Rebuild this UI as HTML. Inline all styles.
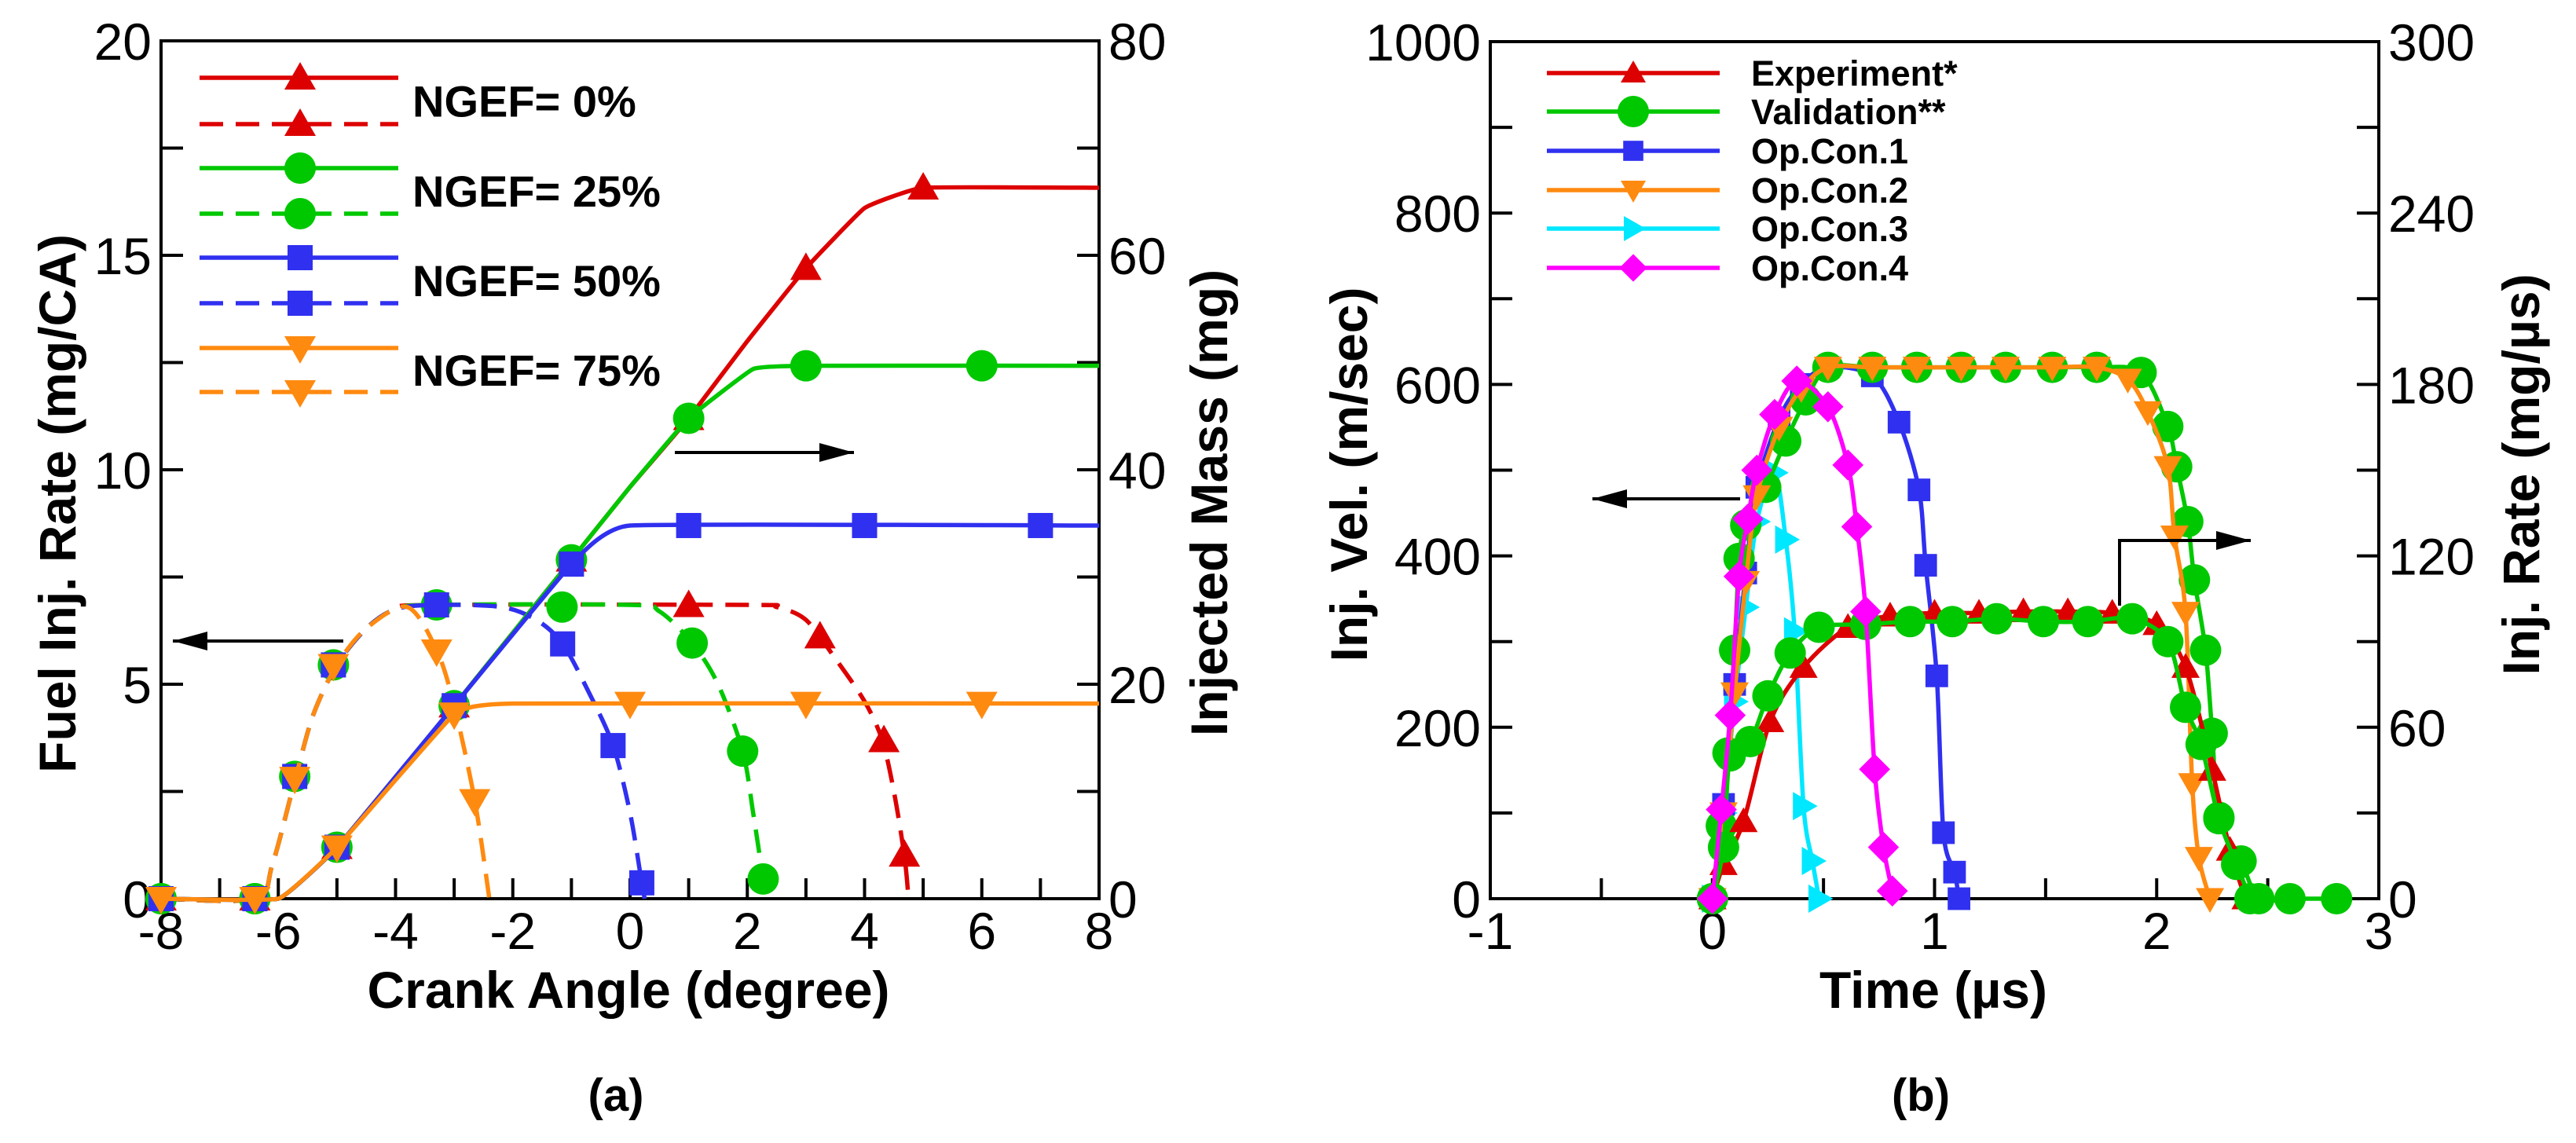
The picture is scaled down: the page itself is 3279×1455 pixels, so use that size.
<!DOCTYPE html>
<html><head><meta charset="utf-8">
<style>
html,body{margin:0;padding:0;background:#fff;}
svg{display:block;}
text{font-family:"Liberation Sans",Arial,sans-serif;}
</style></head>
<body>
<svg id="fig" width="3279" height="1455" viewBox="0 0 3279 1455" xmlns="http://www.w3.org/2000/svg">
<rect width="3279" height="1455" fill="#fff"/>
<g id="chartA"></g>
<g id="chartB"></g>
</svg>
<script>
// ===== Chart (a) data =====
const aXTicks = [-8,-6,-4,-2,0,2,4,6,8];
const aYLeftTicks = [0,5,10,15,20];
const aYRightTicks = [0,20,40,60,80];
// Injected mass (mg, right axis)
const massRedX = [-8,-6,-5,-3,-1,0,1,2,3,4,5,8];
const massRedY = [0,0,4.8,18,31.6,38.4,44.8,52,58.8,64.4,66.3,66.3];
const massRedMX = [-8,-6.4,-5,-3,-1,1,3,5];
const massRedMY = [0,0,4.8,18,31.6,44.8,58.8,66.3];
const massGreenX = [-8,-6,-5,-3,-1,0,1,2.1,3,8];
const massGreenY = [0,0,4.8,18,31.6,38.4,44.8,49.4,49.7,49.7];
const massGreenMX = [-8,-6.4,-5,-3,-1,1,3,6];
const massGreenMY = [0,0,4.8,18,31.6,44.8,49.7,49.7];
const massBlueX = [-8,-6,-5,-3,-1,0,8];
const massBlueY = [0,0,4.8,18,31.2,34.8,34.8];
const massBlueMX = [-8,-6.4,-5,-3,-1,1,4,7];
const massBlueMY = [0,0,4.8,18,31.2,34.8,34.8,34.8];
const massOrangeX = [-8,-6,-5,-3,-2,8];
const massOrangeY = [0,0,4.8,17.2,18.2,18.2];
const massOrangeMX = [-8,-6.4,-5,-3,0,3,6];
const massOrangeMY = [0,0,4.8,17.2,18.2,18.2,18.2];
// Fuel injection rate (mg/CA, left axis)
const rateRedX = [-8,-6.4,-6.1,-5.7,-5.4,-5,-4.5,-4,-3.3,2,2.5,3,3.5,4,4.3,4.5,4.68,4.75];
const rateRedY = [0,0,0.8,2.85,4.3,5.45,6.3,6.75,6.85,6.85,6.8,6.5,5.6,4.6,3.7,2.5,1.0,0];
const rateRedMX = [1.0,3.24,4.33,4.68];
const rateRedMY = [6.84,6.11,3.69,1.02];
const rateGreenX = [-8,-6.4,-6.1,-5.7,-5.4,-5,-4.5,-4,-3.3,0,0.5,1.06,1.5,1.92,2.1,2.27,2.32];
const rateGreenY = [0,0,0.8,2.85,4.3,5.45,6.3,6.75,6.85,6.85,6.7,5.96,5.0,3.44,2.0,0.46,0];
const rateGreenMX = [-8,-6.4,-5.72,-5.06,-3.3,-1.16,1.06,1.92,2.27];
const rateGreenMY = [0,0,2.85,5.45,6.85,6.8,5.96,3.44,0.46];
const rateBlueX = [-8,-6.4,-6.1,-5.7,-5.4,-5,-4.5,-4,-3.3,-2.2,-1.6,-1.15,-0.7,-0.29,0,0.2,0.25];
const rateBlueY = [0,0,0.8,2.85,4.3,5.45,6.3,6.75,6.85,6.8,6.5,5.94,4.8,3.57,2,0.37,0];
const rateBlueMX = [-8,-6.4,-5.72,-5.06,-3.3,-1.15,-0.29,0.2];
const rateBlueMY = [0,0,2.85,5.45,6.85,5.94,3.57,0.37];
const rateOrangeX = [-8,-6.4,-6.1,-5.7,-5.4,-5,-4.5,-3.8,-3.3,-3,-2.65,-2.4];
const rateOrangeY = [0,0,0.8,2.85,4.3,5.45,6.3,6.8,5.8,4.5,2.3,0];
const rateOrangeMX = [-8,-6.4,-5.72,-5.06,-3.3,-2.65];
const rateOrangeMY = [0,0,2.8,5.43,5.77,2.28];
const aLegend = ["NGEF= 0%","NGEF= 25%","NGEF= 50%","NGEF= 75%"];

// ===== Chart (b) data =====
const bXTicks = [-1,0,1,2,3];
const bYLeftTicks = [0,200,400,600,800,1000];
const bYRightTicks = [0,60,120,180,240,300];
const valVelT = [0,0.04,0.07,0.1,0.12,0.15,0.24,0.33,0.42,0.52,0.72,0.92,1.12,1.32,1.53,1.73,1.93,2.05,2.09,2.14,2.17,2.22,2.25,2.28,2.38,2.46,2.6,2.81];
const valVelV = [0,85,170,290,397,436,480,534,582,620,620,620,620,620,620,620,614,551,504,440,372,290,193,95,44,0,0,0];
const op1T = [0,0.05,0.1,0.15,0.2,0.3,0.4,0.52,0.72,0.84,0.93,0.96,1.01,1.04,1.09,1.11];
const op1V = [0,110,250,380,480,560,600,620,610,556,477,389,260,77,31,0];
const op2T = [0,0.05,0.1,0.15,0.2,0.3,0.4,0.52,0.72,0.92,1.12,1.32,1.53,1.73,1.87,1.96,2.05,2.08,2.13,2.16,2.19,2.24];
const op2V = [0,100,240,370,470,550,595,620,620,620,620,620,620,620,606,568,504,423,334,134,48,0];
const op3T = [0,0.05,0.1,0.15,0.2,0.28,0.33,0.37,0.41,0.45,0.48];
const op3V = [0,100,230,340,440,497,419,312,108,44,0];
const op4T = [0,0.04,0.08,0.12,0.16,0.2,0.28,0.38,0.52,0.61,0.65,0.69,0.73,0.77,0.81];
const op4V = [0,104,214,376,443,500,565,604,574,506,434,335,151,60,9];
const expT = [0,0.05,0.14,0.26,0.41,0.61,0.8,1.0,1.2,1.4,1.6,1.8,2.0,2.13,2.25,2.33,2.4];
const expR = [0,12,27,62,81,95,99,100,100,100.5,100.5,100,96,81,45,17,0];
const valRateT = [0,0.05,0.08,0.17,0.25,0.35,0.48,0.69,0.89,1.08,1.28,1.49,1.69,1.89,2.05,2.13,2.2,2.28,2.36,2.42];
const valRateR = [0,18,50,55,71,86,95,96,97,97,98,97,97,98,90,67,54,28,12,0];
const bLegend = ["Experiment*","Validation**","Op.Con.1","Op.Con.2","Op.Con.3","Op.Con.4"];

// ===== drawing =====
const NS="http://www.w3.org/2000/svg";
const C={red:"#dd0000",green:"#00c800",blue:"#3030f0",orange:"#ff8a10",cyan:"#00e8ff",magenta:"#ff00ff"};
function mk(parent,tag,attrs){const e=document.createElementNS(NS,tag);for(const k in attrs)e.setAttribute(k,attrs[k]);parent.appendChild(e);return e;}
function smoothPath(pts,t){
  if(pts.length<2)return "";
  let d="M"+pts[0][0].toFixed(1)+","+pts[0][1].toFixed(1);
  for(let i=0;i<pts.length-1;i++){
    const p0=pts[Math.max(0,i-1)],p1=pts[i],p2=pts[i+1],p3=pts[Math.min(pts.length-1,i+2)];
    const c1=[p1[0]+(p2[0]-p0[0])*t,p1[1]+(p2[1]-p0[1])*t];
    const c2=[p2[0]-(p3[0]-p1[0])*t,p2[1]-(p3[1]-p1[1])*t];
    d+=" C"+c1[0].toFixed(1)+","+c1[1].toFixed(1)+" "+c2[0].toFixed(1)+","+c2[1].toFixed(1)+" "+p2[0].toFixed(1)+","+p2[1].toFixed(1);
  }
  return d;
}
function marker(g,type,x,y,color,s){
  let e;
  if(type==="tri") e=mk(g,"polygon",{points:`${x},${y-s} ${x-s},${y+s*0.75} ${x+s},${y+s*0.75}`,fill:color});
  else if(type==="tridown") e=mk(g,"polygon",{points:`${x},${y+s} ${x-s},${y-s*0.75} ${x+s},${y-s*0.75}`,fill:color});
  else if(type==="triright") e=mk(g,"polygon",{points:`${x+s},${y} ${x-s*0.75},${y-s} ${x-s*0.75},${y+s}`,fill:color});
  else if(type==="circ") e=mk(g,"circle",{cx:x,cy:y,r:s,fill:color});
  else if(type==="sq") e=mk(g,"rect",{x:x-s*0.8,y:y-s*0.8,width:s*1.6,height:s*1.6,fill:color});
  else if(type==="dia") e=mk(g,"polygon",{points:`${x},${y-s*1.1} ${x+s*1.1},${y} ${x},${y+s*1.1} ${x-s*1.1},${y}`,fill:color});
  
  
}
function series(g,name,xs,ys,mx,my,sx,sy,color,mtype,dash,ms,tension){
  const sg=mk(g,"g",{});
  
  
  const pts=xs.map((v,i)=>[sx(v),sy(ys[i])]);
  const p=mk(sg,"path",{d:smoothPath(pts,tension),fill:"none",stroke:color,"stroke-width":5.5,"stroke-linejoin":"round"});
  if(dash)p.setAttribute("stroke-dasharray","30,16");
  
  
  mx.forEach((v,i)=>marker(sg,mtype,sx(v),sy(my[i]),color,ms));
}
function txt(g,x,y,s,attrs,name){
  const t=mk(g,"text",Object.assign({x:x,y:y,fill:"#000"},attrs));t.textContent=s;
  
  
  return t;
}
function arrow(g,pts,name){
  const a=mk(g,"g",{});
  
  
  mk(a,"polyline",{points:pts.map(p=>p.join(",")).join(" "),fill:"none",stroke:"#000","stroke-width":4});
  const [x1,y1]=pts[pts.length-2],[x2,y2]=pts[pts.length-1];
  const dx=Math.sign(x2-x1);
  mk(a,"polygon",{points:`${x2},${y2} ${x2-dx*44},${y2-12} ${x2-dx*44},${y2+12}`,fill:"#000"});
}
function frame(g,L,R,T,B,xt,xminor,ylt,yminor,sx,syL,ylr,syR){
  mk(g,"rect",{x:L,y:T,width:R-L,height:B-T,fill:"none",stroke:"#000","stroke-width":4});
  xminor.forEach(v=>{const x=sx(v);const l=mk(g,"line",{x1:x,y1:B,x2:x,y2:B-26,stroke:"#000","stroke-width":4});});
  yminor.forEach(v=>{const y=syL(v);mk(g,"line",{x1:L,y1:y,x2:L+28,y2:y,stroke:"#000","stroke-width":4});mk(g,"line",{x1:R,y1:y,x2:R-28,y2:y,stroke:"#000","stroke-width":4});});
  xt.forEach(v=>txt(g,sx(v),1208,String(v),{"font-size":66,"text-anchor":"middle"},'x-tick-label'));
  ylt.forEach(v=>txt(g,L-12,syL(v)+24,String(v),{"font-size":66,"text-anchor":"end"},'y-left-tick-label'));
  ylr.forEach(v=>txt(g,R+12,syR(v)+24,String(v),{"font-size":66,"text-anchor":"start"},'y-right-tick-label'));
}

// ---- chart a ----
(function(){
  const g=document.getElementById("chartA");
  const L=205,R=1399,T=52,B=1144;
  const sx=v=>L+(v+8)/16*(R-L);
  const syL=v=>B-v/20*(B-T);
  const syR=v=>B-v/80*(B-T);
  const minorX=[];for(let v=-7;v<=7;v++)minorX.push(v);
  const minorY=[];for(let v=2.5;v<20;v+=2.5)minorY.push(v);
  frame(g,L,R,T,B,aXTicks,minorX,aYLeftTicks,minorY,sx,syL,aYRightTicks,syR);
  const ms=20;
  series(g,"rate-ngef-0",rateRedX,rateRedY,rateRedMX,rateRedMY,sx,syL,C.red,"tri",true,ms,0.15);
  series(g,"rate-ngef-25",rateGreenX,rateGreenY,rateGreenMX,rateGreenMY,sx,syL,C.green,"circ",true,ms,0.15);
  series(g,"rate-ngef-50",rateBlueX,rateBlueY,rateBlueMX,rateBlueMY,sx,syL,C.blue,"sq",true,ms,0.15);
  series(g,"rate-ngef-75",rateOrangeX,rateOrangeY,rateOrangeMX,rateOrangeMY,sx,syL,C.orange,"tridown",true,ms,0.15);
  series(g,"mass-ngef-0",massRedX,massRedY,massRedMX,massRedMY,sx,syR,C.red,"tri",false,ms,0.05);
  series(g,"mass-ngef-25",massGreenX,massGreenY,massGreenMX,massGreenMY,sx,syR,C.green,"circ",false,ms,0.05);
  series(g,"mass-ngef-50",massBlueX,massBlueY,massBlueMX,massBlueMY,sx,syR,C.blue,"sq",false,ms,0.05);
  series(g,"mass-ngef-75",massOrangeX,massOrangeY,massOrangeMX,massOrangeMY,sx,syR,C.orange,"tridown",false,ms,0.05);
  arrow(g,[[437,816],[220,816]],'left-axis-arrow');
  arrow(g,[[859,576],[1087,576]],'right-axis-arrow');
  const lg=mk(g,"g",{});
  const cols=[C.red,C.green,C.blue,C.orange],mt=["tri","circ","sq","tridown"];
  const rows=[99,158,214,272,328,386,443,499];
  aLegend.forEach((lab,i)=>{
    [0,1].forEach(k=>{
      const y=rows[i*2+k];
      const l=mk(lg,"line",{x1:254,y1:y,x2:507,y2:y,stroke:cols[i],"stroke-width":5.5});
      if(k)l.setAttribute("stroke-dasharray","30,16");
      marker(lg,mt[i],382,y,cols[i],20);
    });
    txt(lg,525,(rows[i*2]+rows[i*2+1])/2+20,lab,{"font-size":56,"font-weight":"bold"},'legend-entry');
  });
  txt(g,800,1283,"Crank Angle (degree)",{"font-size":66,"font-weight":"bold","text-anchor":"middle"},'x-axis-title');
  txt(g,0,0,"Fuel Inj. Rate (mg/CA)",{"font-size":66,"font-weight":"bold","text-anchor":"middle",transform:"translate(96,641) rotate(-90)"},'y-left-axis-title');
  txt(g,0,0,"Injected Mass (mg)",{"font-size":66,"font-weight":"bold","text-anchor":"middle",transform:"translate(1562,640) rotate(-90)"},'y-right-axis-title');
  txt(g,784,1414,"(a)",{"font-size":58,"font-weight":"bold","text-anchor":"middle"},'panel-label-a');
})();

// ---- chart b ----
(function(){
  const g=document.getElementById("chartB");
  const L=1897,R=3028,T=53,B=1144;
  const sx=v=>L+(v+1)/4*(R-L);
  const syL=v=>B-v/1000*(B-T);
  const syR=v=>B-v/300*(B-T);
  const minorX=[-0.5,0,0.5,1,1.5,2,2.5];
  const minorY=[100,200,300,400,500,600,700,800,900];
  frame(g,L,R,T,B,bXTicks,minorX,bYLeftTicks,minorY,sx,syL,bYRightTicks,syR);
  const ms=18;
  series(g,"op-con-3",op3T,op3V,op3T,op3V,sx,syL,C.cyan,"triright",false,ms,0.15);
  series(g,"op-con-1",op1T,op1V,op1T,op1V,sx,syL,C.blue,"sq",false,ms,0.15);
  series(g,"validation-velocity",valVelT,valVelV,valVelT,valVelV,sx,syL,C.green,"circ",false,20,0.15);
  series(g,"op-con-2",op2T,op2V,op2T,op2V,sx,syL,C.orange,"tridown",false,ms,0.15);
  series(g,"experiment-rate",expT,expR,expT,expR,sx,syR,C.red,"tri",false,ms,0.15);
  series(g,"validation-rate",valRateT,valRateR,valRateT,valRateR,sx,syR,C.green,"circ",false,20,0.15);
  series(g,"op-con-4",op4T,op4V,op4T,op4V,sx,syL,C.magenta,"dia",false,ms,0.15);
  arrow(g,[[2215,635],[2027,635]],'left-axis-arrow');
  arrow(g,[[2698,771],[2698,688],[2865,688]],'right-axis-arrow');
  const lg=mk(g,"g",{});
  const cols=[C.red,C.green,C.blue,C.orange,C.cyan,C.magenta],mt=["tri","circ","sq","tridown","triright","dia"];
  const rows=[93,142,192,242,291,341];
  bLegend.forEach((lab,i)=>{
    mk(lg,"line",{x1:1969,y1:rows[i],x2:2189,y2:rows[i],stroke:cols[i],"stroke-width":5.5});
    marker(lg,mt[i],2079,rows[i],cols[i],i===1?20:16);
    txt(lg,2229,rows[i]+16,lab,{"font-size":45,"font-weight":"bold"},'legend-entry');
  });
  txt(g,2461,1283,"Time (µs)",{"font-size":66,"font-weight":"bold","text-anchor":"middle"},'x-axis-title');
  txt(g,0,0,"Inj. Vel. (m/sec)",{"font-size":66,"font-weight":"bold","text-anchor":"middle",transform:"translate(1740,604) rotate(-90)"},'y-left-axis-title');
  txt(g,0,0,"Inj. Rate (mg/µs)",{"font-size":66,"font-weight":"bold","text-anchor":"middle",transform:"translate(3232,604) rotate(-90)"},'y-right-axis-title');
  txt(g,2445,1414,"(b)",{"font-size":58,"font-weight":"bold","text-anchor":"middle"},'panel-label-b');
})();
</script>
</body></html>
